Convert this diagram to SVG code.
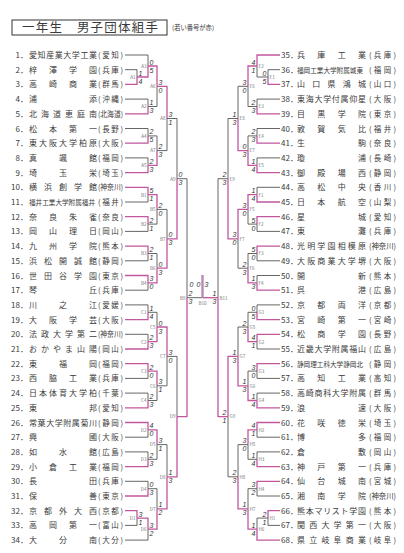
<svg xmlns="http://www.w3.org/2000/svg" width="404" height="553" viewBox="0 0 404 553">
<style>
text{font-family:"Noto Sans CJK JP","Noto Sans",sans-serif;fill:#3a3a3a}
.no{font-size:8px;text-anchor:end}
.nor{font-size:8px}
.nm{font-size:8px}
.nms{font-size:6.6px}
.pf{font-size:7.5px}
.lb{font-size:4.6px;fill:#777}
.lr{font-size:4.6px;fill:#777;text-anchor:end}
.s{font-family:"Liberation Sans",sans-serif;font-style:italic;font-size:7px;fill:#333}
.se{font-family:"Liberation Sans",sans-serif;font-style:italic;font-size:7px;fill:#333;text-anchor:end}
#connectors path{fill:none}
.w{stroke:#c2579f;stroke-width:1.3}
.l{stroke:#555;stroke-width:0.9}
.ch{stroke:#b88ab2;stroke-width:2.4}
</style>
<rect x="12" y="20" width="155" height="15" fill="none" stroke="#333" stroke-width="1"/>
<text x="22" y="32" font-size="12.5" textLength="136" lengthAdjust="spacing">一年生　男子団体組手</text>
<text x="172" y="30" font-size="6.3">(若い番号が赤)</text>

<g id="connectors">
<path class="l" d="M125 69.7H137V77"/><path class="w" d="M125 84.4H137V77"/>
<path class="l" d="M125 55H148V66"/><path class="w" d="M137 77H148V66"/>
<path class="l" d="M125 99.1H148V106.5"/><path class="w" d="M125 113.8H148V106.5"/>
<path class="w" d="M148 66H157V86.3"/><path class="l" d="M148 106.5H157V86.3"/>
<path class="l" d="M125 128.5H148V135.9"/><path class="w" d="M125 143.2H148V135.9"/>
<path class="l" d="M125 157.9H148V165.3"/><path class="w" d="M125 172.6H148V165.3"/>
<path class="l" d="M148 135.9H157V150.6"/><path class="w" d="M148 165.3H157V150.6"/>
<path class="w" d="M157 86.3H167V118.5"/><path class="l" d="M157 150.6H167V118.5"/>
<path class="w" d="M125 187.3H148V194.7"/><path class="l" d="M125 202H148V194.7"/>
<path class="w" d="M125 216.7H148V224.1"/><path class="l" d="M125 231.4H148V224.1"/>
<path class="w" d="M148 194.7H157V209.4"/><path class="l" d="M148 224.1H157V209.4"/>
<path class="w" d="M125 246.1H148V253.5"/><path class="l" d="M125 260.8H148V253.5"/>
<path class="w" d="M125 275.5H148V282.9"/><path class="l" d="M125 290.2H148V282.9"/>
<path class="l" d="M148 253.5H157V268.2"/><path class="w" d="M148 282.9H157V268.2"/>
<path class="l" d="M157 209.4H167V238.8"/><path class="w" d="M157 268.2H167V238.8"/>
<path class="l" d="M167 118.5H177V178.7"/><path class="w" d="M167 238.8H177V178.7"/>
<path class="l" d="M125 304.9H148V312.3"/><path class="w" d="M125 319.6H148V312.3"/>
<path class="l" d="M125 334.3H148V341.7"/><path class="w" d="M125 349H148V341.7"/>
<path class="l" d="M148 312.3H157V327"/><path class="w" d="M148 341.7H157V327"/>
<path class="w" d="M125 363.7H148V371.1"/><path class="l" d="M125 378.4H148V371.1"/>
<path class="l" d="M125 393.1H148V400.5"/><path class="w" d="M125 407.8H148V400.5"/>
<path class="w" d="M148 371.1H157V385.8"/><path class="l" d="M148 400.5H157V385.8"/>
<path class="w" d="M157 327H167V356.4"/><path class="l" d="M157 385.8H167V356.4"/>
<path class="w" d="M125 422.5H148V429.9"/><path class="l" d="M125 437.2H148V429.9"/>
<path class="l" d="M125 451.9H148V459.3"/><path class="w" d="M125 466.6H148V459.3"/>
<path class="w" d="M148 429.9H157V444.6"/><path class="l" d="M148 459.3H157V444.6"/>
<path class="l" d="M125 481.3H148V488.7"/><path class="w" d="M125 496H148V488.7"/>
<path class="w" d="M125 510.7H137V518.1"/><path class="l" d="M125 525.4H137V518.1"/>
<path class="w" d="M137 518.1H148V529.1"/><path class="l" d="M125 540.1H148V529.1"/>
<path class="l" d="M148 488.7H157V508.9"/><path class="w" d="M148 529.1H157V508.9"/>
<path class="l" d="M157 444.6H167V476.8"/><path class="w" d="M157 508.9H167V476.8"/>
<path class="l" d="M167 356.4H177V416.6"/><path class="w" d="M167 476.8H177V416.6"/>
<path class="l" d="M177 178.7H187V297.7"/><path class="w" d="M177 416.6H187V297.7"/>
<path class="l" d="M187 297.7H202.5"/>
<path class="w" d="M218 297.7H202.5"/>
<path class="ch" d="M202.5 297.7V275"/>
<path class="l" d="M228 178.7H218V297.7"/><path class="w" d="M228 416.6H218V297.7"/>
<path class="l" d="M280 69.7H268V77"/><path class="w" d="M280 84.4H268V77"/>
<path class="w" d="M280 55H257V66"/><path class="l" d="M268 77H257V66"/>
<path class="l" d="M280 99.1H257V106.5"/><path class="w" d="M280 113.8H257V106.5"/>
<path class="w" d="M257 66H248V86.3"/><path class="l" d="M257 106.5H248V86.3"/>
<path class="l" d="M280 128.5H257V135.9"/><path class="w" d="M280 143.2H257V135.9"/>
<path class="l" d="M280 157.9H257V165.3"/><path class="w" d="M280 172.6H257V165.3"/>
<path class="l" d="M257 135.9H248V150.6"/><path class="w" d="M257 165.3H248V150.6"/>
<path class="l" d="M248 86.3H238V118.5"/><path class="w" d="M248 150.6H238V118.5"/>
<path class="l" d="M280 187.3H257V194.7"/><path class="w" d="M280 202H257V194.7"/>
<path class="w" d="M280 216.7H257V224.1"/><path class="l" d="M280 231.4H257V224.1"/>
<path class="w" d="M257 194.7H248V209.4"/><path class="l" d="M257 224.1H248V209.4"/>
<path class="w" d="M280 246.1H257V253.5"/><path class="l" d="M280 260.8H257V253.5"/>
<path class="l" d="M280 275.5H257V282.9"/><path class="w" d="M280 290.2H257V282.9"/>
<path class="l" d="M257 253.5H248V268.2"/><path class="w" d="M257 282.9H248V268.2"/>
<path class="w" d="M248 209.4H238V238.8"/><path class="l" d="M248 268.2H238V238.8"/>
<path class="l" d="M238 118.5H228V178.7"/><path class="w" d="M238 238.8H228V178.7"/>
<path class="l" d="M280 304.9H257V312.3"/><path class="w" d="M280 319.6H257V312.3"/>
<path class="w" d="M280 334.3H257V341.7"/><path class="l" d="M280 349H257V341.7"/>
<path class="l" d="M257 312.3H248V327"/><path class="w" d="M257 341.7H248V327"/>
<path class="w" d="M280 363.7H257V371.1"/><path class="l" d="M280 378.4H257V371.1"/>
<path class="l" d="M280 393.1H257V400.5"/><path class="w" d="M280 407.8H257V400.5"/>
<path class="l" d="M257 371.1H248V385.8"/><path class="w" d="M257 400.5H248V385.8"/>
<path class="l" d="M248 327H238V356.4"/><path class="w" d="M248 385.8H238V356.4"/>
<path class="w" d="M280 422.5H257V429.9"/><path class="l" d="M280 437.2H257V429.9"/>
<path class="l" d="M280 451.9H257V459.3"/><path class="w" d="M280 466.6H257V459.3"/>
<path class="w" d="M257 429.9H248V444.6"/><path class="l" d="M257 459.3H248V444.6"/>
<path class="w" d="M280 481.3H257V488.7"/><path class="l" d="M280 496H257V488.7"/>
<path class="w" d="M280 510.7H268V518.1"/><path class="l" d="M280 525.4H268V518.1"/>
<path class="l" d="M268 518.1H257V529.1"/><path class="w" d="M280 540.1H257V529.1"/>
<path class="l" d="M257 488.7H248V508.9"/><path class="w" d="M257 529.1H248V508.9"/>
<path class="l" d="M248 444.6H238V476.8"/><path class="w" d="M248 508.9H238V476.8"/>
<path class="w" d="M238 356.4H228V416.6"/><path class="l" d="M238 476.8H228V416.6"/>
</g>

<g id="matches">
<g id="mA1"><text class="lr" x="135.5" y="78.8">A1</text><text class="s" x="138.5" y="75.5">1</text><text class="s" x="138.5" y="83.5">4</text></g>
<g id="mA3"><text class="lr" x="146.5" y="67.8">A3</text><text class="s" x="149.5" y="64.5">0</text><text class="s" x="149.5" y="72.5">5</text></g>
<g id="mA2"><text class="lr" x="146.5" y="108.3">A2</text><text class="s" x="149.5" y="105">1</text><text class="s" x="149.5" y="113">3</text></g>
<g id="mA6"><text class="lr" x="155.5" y="88.1">A6</text><text class="s" x="158.5" y="84.8">3</text><text class="s" x="158.5" y="92.8">0</text></g>
<g id="mA4"><text class="lr" x="146.5" y="137.7">A4</text><text class="s" x="149.5" y="134.4">2</text><text class="s" x="149.5" y="142.4">5</text></g>
<g id="mA5"><text class="lr" x="146.5" y="167.1">A5</text><text class="s" x="149.5" y="163.8">2</text><text class="s" x="149.5" y="171.8">3</text></g>
<g id="mA7"><text class="lr" x="155.5" y="152.4">A7</text><text class="s" x="158.5" y="149.1">2</text><text class="s" x="158.5" y="157.1">3</text></g>
<g id="mA8"><text class="lr" x="165.5" y="120.3">A8</text><text class="s" x="168.5" y="117">3</text><text class="s" x="168.5" y="125">1</text></g>
<g id="mB1"><text class="lr" x="146.5" y="196.5">B1</text><text class="s" x="149.5" y="193.2">5</text><text class="s" x="149.5" y="201.2">1</text></g>
<g id="mB2"><text class="lr" x="146.5" y="225.9">B2</text><text class="s" x="149.5" y="222.6">2</text><text class="s" x="149.5" y="230.6">1</text></g>
<g id="mB5"><text class="lr" x="155.5" y="211.2">B5</text><text class="s" x="158.5" y="207.9">2</text><text class="s" x="158.5" y="215.9">0</text></g>
<g id="mB3"><text class="lr" x="146.5" y="255.3">B3</text><text class="s" x="149.5" y="252">2</text><text class="s" x="149.5" y="260">1</text></g>
<g id="mB4"><text class="lr" x="146.5" y="284.7">B4</text><text class="s" x="149.5" y="281.4">3</text><text class="s" x="149.5" y="289.4">0</text></g>
<g id="mB6"><text class="lr" x="155.5" y="270">B6</text><text class="s" x="158.5" y="266.7">0</text><text class="s" x="158.5" y="274.7">3</text></g>
<g id="mB7"><text class="lr" x="165.5" y="240.6">B7</text><text class="s" x="168.5" y="237.3">0</text><text class="s" x="168.5" y="245.3">3</text></g>
<g id="mA9"><text class="lr" x="175.5" y="180.5">A9</text><text class="s" x="178.5" y="177.2">0</text><text class="s" x="178.5" y="185.2">3</text></g>
<g id="mC1"><text class="lr" x="146.5" y="314.1">C1</text><text class="s" x="149.5" y="310.8">1</text><text class="s" x="149.5" y="318.8">4</text></g>
<g id="mC2"><text class="lr" x="146.5" y="343.5">C2</text><text class="s" x="149.5" y="340.2">2</text><text class="s" x="149.5" y="348.2">3</text></g>
<g id="mC5"><text class="lr" x="155.5" y="328.8">C5</text><text class="s" x="158.5" y="325.5">0</text><text class="s" x="158.5" y="333.5">3</text></g>
<g id="mC3"><text class="lr" x="146.5" y="372.9">C3</text><text class="s" x="149.5" y="369.6">2</text><text class="s" x="149.5" y="377.6">0</text></g>
<g id="mC4"><text class="lr" x="146.5" y="402.3">C4</text><text class="s" x="149.5" y="399">2</text><text class="s" x="149.5" y="407">3</text></g>
<g id="mC6"><text class="lr" x="155.5" y="387.6">C6</text><text class="s" x="158.5" y="384.3">3</text><text class="s" x="158.5" y="392.3">1</text></g>
<g id="mC7"><text class="lr" x="165.5" y="358.2">C7</text><text class="s" x="168.5" y="354.9">3</text><text class="s" x="168.5" y="362.9">0</text></g>
<g id="mD2"><text class="lr" x="146.5" y="431.7">D2</text><text class="s" x="149.5" y="428.4">4</text><text class="s" x="149.5" y="436.4">0</text></g>
<g id="mD3"><text class="lr" x="146.5" y="461.1">D3</text><text class="s" x="149.5" y="457.8">2</text><text class="s" x="149.5" y="465.8">3</text></g>
<g id="mD5"><text class="lr" x="155.5" y="446.4">D5</text><text class="s" x="158.5" y="443.1">3</text><text class="s" x="158.5" y="451.1">1</text></g>
<g id="mD4"><text class="lr" x="146.5" y="490.5">D4</text><text class="s" x="149.5" y="487.2">0</text><text class="s" x="149.5" y="495.2">3</text></g>
<g id="mD1"><text class="lr" x="135.5" y="519.9">D1</text><text class="s" x="138.5" y="516.6">3</text><text class="s" x="138.5" y="524.6">1</text></g>
<g id="mD6"><text class="lr" x="146.5" y="530.9">D6</text><text class="s" x="149.5" y="527.6">3</text><text class="s" x="149.5" y="535.6">2</text></g>
<g id="mD7"><text class="lr" x="155.5" y="510.7">D7</text><text class="s" x="158.5" y="507.4">1</text><text class="s" x="158.5" y="515.4">2</text></g>
<g id="mD8"><text class="lr" x="165.5" y="478.6">D8</text><text class="s" x="168.5" y="475.3">1</text><text class="s" x="168.5" y="483.3">3</text></g>
<g id="mD9"><text class="lr" x="175.5" y="418.4">D9</text></g>
<g id="mB9"><text class="lr" x="185.5" y="299.5">B9</text><text class="s" x="188.5" y="296.2">2</text><text class="s" x="188.5" y="304.2">3</text></g>
<g id="mB10"><text class="lb" x="202.5" y="305" text-anchor="middle">B10</text><text class="s" x="189.5" y="287">0</text><text class="se" x="200.5" y="287">0</text><text class="s" x="204.5" y="287">3</text></g>
<g id="mB11"><text class="lb" x="219.5" y="299.5">B11</text><text class="se" x="216.5" y="296.2">1</text><text class="se" x="216.5" y="304.2">3</text></g>
<g id="mE1"><text class="lb" x="269.5" y="78.8">E1</text><text class="se" x="266.5" y="75.5">0</text><text class="se" x="266.5" y="83.5">5</text></g>
<g id="mE2"><text class="lb" x="258.5" y="67.8">E2</text><text class="se" x="255.5" y="64.5">4</text><text class="se" x="255.5" y="72.5">1</text></g>
<g id="mE3"><text class="lb" x="258.5" y="108.3">E3</text><text class="se" x="255.5" y="105">2</text><text class="se" x="255.5" y="113">3</text></g>
<g id="mE6"><text class="lb" x="249.5" y="88.1">E6</text><text class="se" x="246.5" y="84.8">3</text><text class="se" x="246.5" y="92.8">0</text></g>
<g id="mE4"><text class="lb" x="258.5" y="137.7">E4</text><text class="se" x="255.5" y="134.4">2</text><text class="se" x="255.5" y="142.4">3</text></g>
<g id="mE5"><text class="lb" x="258.5" y="167.1">E5</text><text class="se" x="255.5" y="163.8">1</text><text class="se" x="255.5" y="171.8">4</text></g>
<g id="mE7"><text class="lb" x="249.5" y="152.4">E7</text><text class="se" x="246.5" y="149.1">0</text><text class="se" x="246.5" y="157.1">3</text></g>
<g id="mE8"><text class="lb" x="239.5" y="120.3">E8</text><text class="se" x="236.5" y="117">1</text><text class="se" x="236.5" y="125">3</text></g>
<g id="mF1"><text class="lb" x="258.5" y="196.5">F1</text><text class="se" x="255.5" y="193.2">1</text><text class="se" x="255.5" y="201.2">4</text></g>
<g id="mF2"><text class="lb" x="258.5" y="225.9">F2</text><text class="se" x="255.5" y="222.6">5</text><text class="se" x="255.5" y="230.6">0</text></g>
<g id="mF5"><text class="lb" x="249.5" y="211.2">F5</text><text class="se" x="246.5" y="207.9">3</text><text class="se" x="246.5" y="215.9">0</text></g>
<g id="mF3"><text class="lb" x="258.5" y="255.3">F3</text><text class="se" x="255.5" y="252">5</text><text class="se" x="255.5" y="260">0</text></g>
<g id="mF4"><text class="lb" x="258.5" y="284.7">F4</text><text class="se" x="255.5" y="281.4">1</text><text class="se" x="255.5" y="289.4">3</text></g>
<g id="mF6"><text class="lb" x="249.5" y="270">F6</text><text class="se" x="246.5" y="266.7">2</text><text class="se" x="246.5" y="274.7">3</text></g>
<g id="mF7"><text class="lb" x="239.5" y="240.6">F7</text><text class="se" x="236.5" y="237.3">3</text><text class="se" x="236.5" y="245.3">0</text></g>
<g id="mE9"><text class="lb" x="229.5" y="180.5">E9</text><text class="se" x="226.5" y="177.2">2</text><text class="se" x="226.5" y="185.2">3</text></g>
<g id="mG1"><text class="lb" x="258.5" y="314.1">G1</text><text class="se" x="255.5" y="310.8">0</text><text class="se" x="255.5" y="318.8">5</text></g>
<g id="mG2"><text class="lb" x="258.5" y="343.5">G2</text><text class="se" x="255.5" y="340.2">4</text><text class="se" x="255.5" y="348.2">1</text></g>
<g id="mG5"><text class="lb" x="249.5" y="328.8">G5</text><text class="se" x="246.5" y="325.5">2</text><text class="se" x="246.5" y="333.5">3</text></g>
<g id="mG3"><text class="lb" x="258.5" y="372.9">G3</text><text class="se" x="255.5" y="369.6">3</text><text class="se" x="255.5" y="377.6">0</text></g>
<g id="mG4"><text class="lb" x="258.5" y="402.3">G4</text><text class="se" x="255.5" y="399">1</text><text class="se" x="255.5" y="407">4</text></g>
<g id="mG6"><text class="lb" x="249.5" y="387.6">G6</text><text class="se" x="246.5" y="384.3">1</text><text class="se" x="246.5" y="392.3">3</text></g>
<g id="mG7"><text class="lb" x="239.5" y="358.2">G7</text><text class="se" x="236.5" y="354.9">1</text><text class="se" x="236.5" y="362.9">3</text></g>
<g id="mH2"><text class="lb" x="258.5" y="431.7">H2</text><text class="se" x="255.5" y="428.4">4</text><text class="se" x="255.5" y="436.4">1</text></g>
<g id="mH3"><text class="lb" x="258.5" y="461.1">H3</text><text class="se" x="255.5" y="457.8">1</text><text class="se" x="255.5" y="465.8">4</text></g>
<g id="mH5"><text class="lb" x="249.5" y="446.4">H5</text><text class="se" x="246.5" y="443.1">3</text><text class="se" x="246.5" y="451.1">0</text></g>
<g id="mH4"><text class="lb" x="258.5" y="490.5">H4</text><text class="se" x="255.5" y="487.2">3</text><text class="se" x="255.5" y="495.2">2</text></g>
<g id="mH1"><text class="lb" x="269.5" y="519.9">H1</text><text class="se" x="266.5" y="516.6">2</text><text class="se" x="266.5" y="524.6">1</text></g>
<g id="mH6"><text class="lb" x="258.5" y="530.9">H6</text><text class="se" x="255.5" y="527.6">1</text><text class="se" x="255.5" y="535.6">4</text></g>
<g id="mH7"><text class="lb" x="249.5" y="510.7">H7</text><text class="se" x="246.5" y="507.4">1</text><text class="se" x="246.5" y="515.4">3</text></g>
<g id="mH8"><text class="lb" x="239.5" y="478.6">H8</text><text class="se" x="236.5" y="475.3">2</text><text class="se" x="236.5" y="483.3">3</text></g>
<g id="mG9"><text class="lb" x="229.5" y="418.4">G9</text><text class="se" x="226.5" y="415.1">2</text><text class="se" x="226.5" y="423.1">1</text></g>
</g>

<g id="teams">
<g id="t1" transform="translate(0,55)"><text class="no" x="28" y="3">1．</text><text class="nm" x="29" y="3" textLength="68" lengthAdjust="spacing">愛知産業大学工業</text><text class="pf" x="98" y="3" textLength="25">(愛知)</text></g>
<g id="t2" transform="translate(0,69.7)"><text class="no" x="28" y="3">2．</text><text class="nm" x="29" y="3" textLength="68">梓澤学園</text><text class="pf" x="98" y="3" textLength="25">(兵庫)</text></g>
<g id="t3" transform="translate(0,84.4)"><text class="no" x="28" y="3">3．</text><text class="nm" x="29" y="3" textLength="68">高崎商業</text><text class="pf" x="98" y="3" textLength="25">(群馬)</text></g>
<g id="t4" transform="translate(0,99.1)"><text class="no" x="28" y="3">4．</text><text class="nm" x="29" y="3" textLength="68">浦添</text><text class="pf" x="98" y="3" textLength="25">(沖縄)</text></g>
<g id="t5" transform="translate(0,113.8)"><text class="no" x="28" y="3">5．</text><text class="nm" x="29" y="3" textLength="68">北海道恵庭南</text><text class="pf" x="98" y="3" textLength="25" lengthAdjust="spacingAndGlyphs">(北海道)</text></g>
<g id="t6" transform="translate(0,128.5)"><text class="no" x="28" y="3">6．</text><text class="nm" x="29" y="3" textLength="68">松本第一</text><text class="pf" x="98" y="3" textLength="25">(長野)</text></g>
<g id="t7" transform="translate(0,143.2)"><text class="no" x="28" y="3">7．</text><text class="nm" x="29" y="3" textLength="68">東大阪大学柏原</text><text class="pf" x="98" y="3" textLength="25">(大阪)</text></g>
<g id="t8" transform="translate(0,157.9)"><text class="no" x="28" y="3">8．</text><text class="nm" x="29" y="3" textLength="68">真颯館</text><text class="pf" x="98" y="3" textLength="25">(福岡)</text></g>
<g id="t9" transform="translate(0,172.6)"><text class="no" x="28" y="3">9．</text><text class="nm" x="29" y="3" textLength="68">埼玉栄</text><text class="pf" x="98" y="3" textLength="25">(埼玉)</text></g>
<g id="t10" transform="translate(0,187.3)"><text class="no" x="28" y="3">10．</text><text class="nm" x="29" y="3" textLength="68">横浜創学館</text><text class="pf" x="98" y="3" textLength="25" lengthAdjust="spacingAndGlyphs">(神奈川)</text></g>
<g id="t11" transform="translate(0,202)"><text class="no" x="28" y="3">11．</text><text class="nms" x="29" y="3" textLength="66">福井工業大学附属福井</text><text class="pf" x="98" y="3" textLength="25">(福井)</text></g>
<g id="t12" transform="translate(0,216.7)"><text class="no" x="28" y="3">12．</text><text class="nm" x="29" y="3" textLength="68">奈良朱雀</text><text class="pf" x="98" y="3" textLength="25">(奈良)</text></g>
<g id="t13" transform="translate(0,231.4)"><text class="no" x="28" y="3">13．</text><text class="nm" x="29" y="3" textLength="68">岡山理日</text><text class="pf" x="98" y="3" textLength="25">(岡山)</text></g>
<g id="t14" transform="translate(0,246.1)"><text class="no" x="28" y="3">14．</text><text class="nm" x="29" y="3" textLength="68">九州学院</text><text class="pf" x="98" y="3" textLength="25">(熊本)</text></g>
<g id="t15" transform="translate(0,260.8)"><text class="no" x="28" y="3">15．</text><text class="nm" x="29" y="3" textLength="68">浜松開誠館</text><text class="pf" x="98" y="3" textLength="25">(静岡)</text></g>
<g id="t16" transform="translate(0,275.5)"><text class="no" x="28" y="3">16．</text><text class="nm" x="29" y="3" textLength="68">世田谷学園</text><text class="pf" x="98" y="3" textLength="25">(東京)</text></g>
<g id="t17" transform="translate(0,290.2)"><text class="no" x="28" y="3">17．</text><text class="nm" x="29" y="3" textLength="68">琴丘</text><text class="pf" x="98" y="3" textLength="25">(兵庫)</text></g>
<g id="t18" transform="translate(0,304.9)"><text class="no" x="28" y="3">18．</text><text class="nm" x="29" y="3" textLength="68">川之江</text><text class="pf" x="98" y="3" textLength="25">(愛媛)</text></g>
<g id="t19" transform="translate(0,319.6)"><text class="no" x="28" y="3">19．</text><text class="nm" x="29" y="3" textLength="68">大阪学芸</text><text class="pf" x="98" y="3" textLength="25">(大阪)</text></g>
<g id="t20" transform="translate(0,334.3)"><text class="no" x="28" y="3">20．</text><text class="nm" x="29" y="3" textLength="68">法政大学第二</text><text class="pf" x="98" y="3" textLength="25" lengthAdjust="spacingAndGlyphs">(神奈川)</text></g>
<g id="t21" transform="translate(0,349)"><text class="no" x="28" y="3">21．</text><text class="nm" x="29" y="3" textLength="68">おかやま山陽</text><text class="pf" x="98" y="3" textLength="25">(岡山)</text></g>
<g id="t22" transform="translate(0,363.7)"><text class="no" x="28" y="3">22．</text><text class="nm" x="29" y="3" textLength="68">東福岡</text><text class="pf" x="98" y="3" textLength="25">(福岡)</text></g>
<g id="t23" transform="translate(0,378.4)"><text class="no" x="28" y="3">23．</text><text class="nm" x="29" y="3" textLength="68">西脇工業</text><text class="pf" x="98" y="3" textLength="25">(兵庫)</text></g>
<g id="t24" transform="translate(0,393.1)"><text class="no" x="28" y="3">24．</text><text class="nm" x="29" y="3" textLength="68">日本体育大学柏</text><text class="pf" x="98" y="3" textLength="25">(千葉)</text></g>
<g id="t25" transform="translate(0,407.8)"><text class="no" x="28" y="3">25．</text><text class="nm" x="29" y="3" textLength="68">東邦</text><text class="pf" x="98" y="3" textLength="25">(愛知)</text></g>
<g id="t26" transform="translate(0,422.5)"><text class="no" x="28" y="3">26．</text><text class="nm" x="29" y="3" textLength="68">常葉大学附属菊川</text><text class="pf" x="98" y="3" textLength="25">(静岡)</text></g>
<g id="t27" transform="translate(0,437.2)"><text class="no" x="28" y="3">27．</text><text class="nm" x="29" y="3" textLength="68">興國</text><text class="pf" x="98" y="3" textLength="25">(大阪)</text></g>
<g id="t28" transform="translate(0,451.9)"><text class="no" x="28" y="3">28．</text><text class="nm" x="29" y="3" textLength="68">如水館</text><text class="pf" x="98" y="3" textLength="25">(広島)</text></g>
<g id="t29" transform="translate(0,466.6)"><text class="no" x="28" y="3">29．</text><text class="nm" x="29" y="3" textLength="68">小倉工業</text><text class="pf" x="98" y="3" textLength="25">(福岡)</text></g>
<g id="t30" transform="translate(0,481.3)"><text class="no" x="28" y="3">30．</text><text class="nm" x="29" y="3" textLength="68">長田</text><text class="pf" x="98" y="3" textLength="25">(兵庫)</text></g>
<g id="t31" transform="translate(0,496)"><text class="no" x="28" y="3">31．</text><text class="nm" x="29" y="3" textLength="68">保善</text><text class="pf" x="98" y="3" textLength="25">(東京)</text></g>
<g id="t32" transform="translate(0,510.7)"><text class="no" x="28" y="3">32．</text><text class="nm" x="29" y="3" textLength="68">京都外大西</text><text class="pf" x="98" y="3" textLength="25">(京都)</text></g>
<g id="t33" transform="translate(0,525.4)"><text class="no" x="28" y="3">33．</text><text class="nm" x="29" y="3" textLength="68">高岡第一</text><text class="pf" x="98" y="3" textLength="25">(富山)</text></g>
<g id="t34" transform="translate(0,540.1)"><text class="no" x="28" y="3">34．</text><text class="nm" x="29" y="3" textLength="68">大分南</text><text class="pf" x="98" y="3" textLength="25">(大分)</text></g>

<g id="t35" transform="translate(0,55)"><text class="nor" x="281" y="3">35．</text><text class="nm" x="297" y="3" textLength="69">兵庫工業</text><text class="pf" x="369" y="3" textLength="27">(兵庫)</text></g>
<g id="t36" transform="translate(0,69.7)"><text class="nor" x="281" y="3">36．</text><text class="nms" x="297" y="3" textLength="66">福岡工業大学附属城東</text><text class="pf" x="369" y="3" textLength="27">(福岡)</text></g>
<g id="t37" transform="translate(0,84.4)"><text class="nor" x="281" y="3">37．</text><text class="nm" x="297" y="3" textLength="69">山口県鴻城</text><text class="pf" x="369" y="3" textLength="27">(山口)</text></g>
<g id="t38" transform="translate(0,99.1)"><text class="nor" x="281" y="3">38．</text><text class="nm" x="297" y="3" textLength="69">東海大学付属仰星</text><text class="pf" x="369" y="3" textLength="27">(大阪)</text></g>
<g id="t39" transform="translate(0,113.8)"><text class="nor" x="281" y="3">39．</text><text class="nm" x="297" y="3" textLength="69">目黒学院</text><text class="pf" x="369" y="3" textLength="27">(東京)</text></g>
<g id="t40" transform="translate(0,128.5)"><text class="nor" x="281" y="3">40．</text><text class="nm" x="297" y="3" textLength="69">敦賀気比</text><text class="pf" x="369" y="3" textLength="27">(福井)</text></g>
<g id="t41" transform="translate(0,143.2)"><text class="nor" x="281" y="3">41．</text><text class="nm" x="297" y="3" textLength="69">生駒</text><text class="pf" x="369" y="3" textLength="27">(奈良)</text></g>
<g id="t42" transform="translate(0,157.9)"><text class="nor" x="281" y="3">42．</text><text class="nm" x="297" y="3" textLength="69">瓊浦</text><text class="pf" x="369" y="3" textLength="27">(長崎)</text></g>
<g id="t43" transform="translate(0,172.6)"><text class="nor" x="281" y="3">43．</text><text class="nm" x="297" y="3" textLength="69">御殿場西</text><text class="pf" x="369" y="3" textLength="27">(静岡)</text></g>
<g id="t44" transform="translate(0,187.3)"><text class="nor" x="281" y="3">44．</text><text class="nm" x="297" y="3" textLength="69">高松中央</text><text class="pf" x="369" y="3" textLength="27">(香川)</text></g>
<g id="t45" transform="translate(0,202)"><text class="nor" x="281" y="3">45．</text><text class="nm" x="297" y="3" textLength="69">日本航空</text><text class="pf" x="369" y="3" textLength="27">(山梨)</text></g>
<g id="t46" transform="translate(0,216.7)"><text class="nor" x="281" y="3">46．</text><text class="nm" x="297" y="3" textLength="69">星城</text><text class="pf" x="369" y="3" textLength="27">(愛知)</text></g>
<g id="t47" transform="translate(0,231.4)"><text class="nor" x="281" y="3">47．</text><text class="nm" x="297" y="3" textLength="69">東灘</text><text class="pf" x="369" y="3" textLength="27">(兵庫)</text></g>
<g id="t48" transform="translate(0,246.1)"><text class="nor" x="281" y="3">48．</text><text class="nm" x="297" y="3" textLength="69">光明学園相模原</text><text class="pf" x="369" y="3" textLength="27" lengthAdjust="spacingAndGlyphs">(神奈川)</text></g>
<g id="t49" transform="translate(0,260.8)"><text class="nor" x="281" y="3">49．</text><text class="nm" x="297" y="3" textLength="69">大阪商業大学堺</text><text class="pf" x="369" y="3" textLength="27">(大阪)</text></g>
<g id="t50" transform="translate(0,275.5)"><text class="nor" x="281" y="3">50．</text><text class="nm" x="297" y="3" textLength="69">開新</text><text class="pf" x="369" y="3" textLength="27">(熊本)</text></g>
<g id="t51" transform="translate(0,290.2)"><text class="nor" x="281" y="3">51．</text><text class="nm" x="297" y="3" textLength="69">呉港</text><text class="pf" x="369" y="3" textLength="27">(広島)</text></g>
<g id="t52" transform="translate(0,304.9)"><text class="nor" x="281" y="3">52．</text><text class="nm" x="297" y="3" textLength="69">京都両洋</text><text class="pf" x="369" y="3" textLength="27">(京都)</text></g>
<g id="t53" transform="translate(0,319.6)"><text class="nor" x="281" y="3">53．</text><text class="nm" x="297" y="3" textLength="69">宮崎第一</text><text class="pf" x="369" y="3" textLength="27">(宮崎)</text></g>
<g id="t54" transform="translate(0,334.3)"><text class="nor" x="281" y="3">54．</text><text class="nm" x="297" y="3" textLength="69">松商学園</text><text class="pf" x="369" y="3" textLength="27">(長野)</text></g>
<g id="t55" transform="translate(0,349)"><text class="nor" x="281" y="3">55．</text><text class="nm" x="297" y="3" textLength="69">近畿大学附属福山</text><text class="pf" x="369" y="3" textLength="27">(広島)</text></g>
<g id="t56" transform="translate(0,363.7)"><text class="nor" x="281" y="3">56．</text><text class="nms" x="297" y="3" textLength="66">静岡理工科大学静岡北</text><text class="pf" x="369" y="3" textLength="27">(静岡)</text></g>
<g id="t57" transform="translate(0,378.4)"><text class="nor" x="281" y="3">57．</text><text class="nm" x="297" y="3" textLength="69">高知工業</text><text class="pf" x="369" y="3" textLength="27">(高知)</text></g>
<g id="t58" transform="translate(0,393.1)"><text class="nor" x="281" y="3">58．</text><text class="nm" x="297" y="3" textLength="69">高崎商科大学附属</text><text class="pf" x="369" y="3" textLength="27">(群馬)</text></g>
<g id="t59" transform="translate(0,407.8)"><text class="nor" x="281" y="3">59．</text><text class="nm" x="297" y="3" textLength="69">浪速</text><text class="pf" x="369" y="3" textLength="27">(大阪)</text></g>
<g id="t60" transform="translate(0,422.5)"><text class="nor" x="281" y="3">60．</text><text class="nm" x="297" y="3" textLength="69">花咲徳栄</text><text class="pf" x="369" y="3" textLength="27">(埼玉)</text></g>
<g id="t61" transform="translate(0,437.2)"><text class="nor" x="281" y="3">61．</text><text class="nm" x="297" y="3" textLength="69">博多</text><text class="pf" x="369" y="3" textLength="27">(福岡)</text></g>
<g id="t62" transform="translate(0,451.9)"><text class="nor" x="281" y="3">62．</text><text class="nm" x="297" y="3" textLength="69">倉敷</text><text class="pf" x="369" y="3" textLength="27">(岡山)</text></g>
<g id="t63" transform="translate(0,466.6)"><text class="nor" x="281" y="3">63．</text><text class="nm" x="297" y="3" textLength="69">神戸第一</text><text class="pf" x="369" y="3" textLength="27">(兵庫)</text></g>
<g id="t64" transform="translate(0,481.3)"><text class="nor" x="281" y="3">64．</text><text class="nm" x="297" y="3" textLength="69">仙台城南</text><text class="pf" x="369" y="3" textLength="27">(宮城)</text></g>
<g id="t65" transform="translate(0,496)"><text class="nor" x="281" y="3">65．</text><text class="nm" x="297" y="3" textLength="69">湘南学院</text><text class="pf" x="369" y="3" textLength="27" lengthAdjust="spacingAndGlyphs">(神奈川)</text></g>
<g id="t66" transform="translate(0,510.7)"><text class="nor" x="281" y="3">66．</text><text class="nm" x="297" y="3" textLength="69">熊本マリスト学園</text><text class="pf" x="369" y="3" textLength="27">(熊本)</text></g>
<g id="t67" transform="translate(0,525.4)"><text class="nor" x="281" y="3">67．</text><text class="nm" x="297" y="3" textLength="69">関西大学第一</text><text class="pf" x="369" y="3" textLength="27">(大阪)</text></g>
<g id="t68" transform="translate(0,540.1)"><text class="nor" x="281" y="3">68．</text><text class="nm" x="297" y="3" textLength="69">県立岐阜商業</text><text class="pf" x="369" y="3" textLength="27">(岐阜)</text></g>
</g>
</svg>
